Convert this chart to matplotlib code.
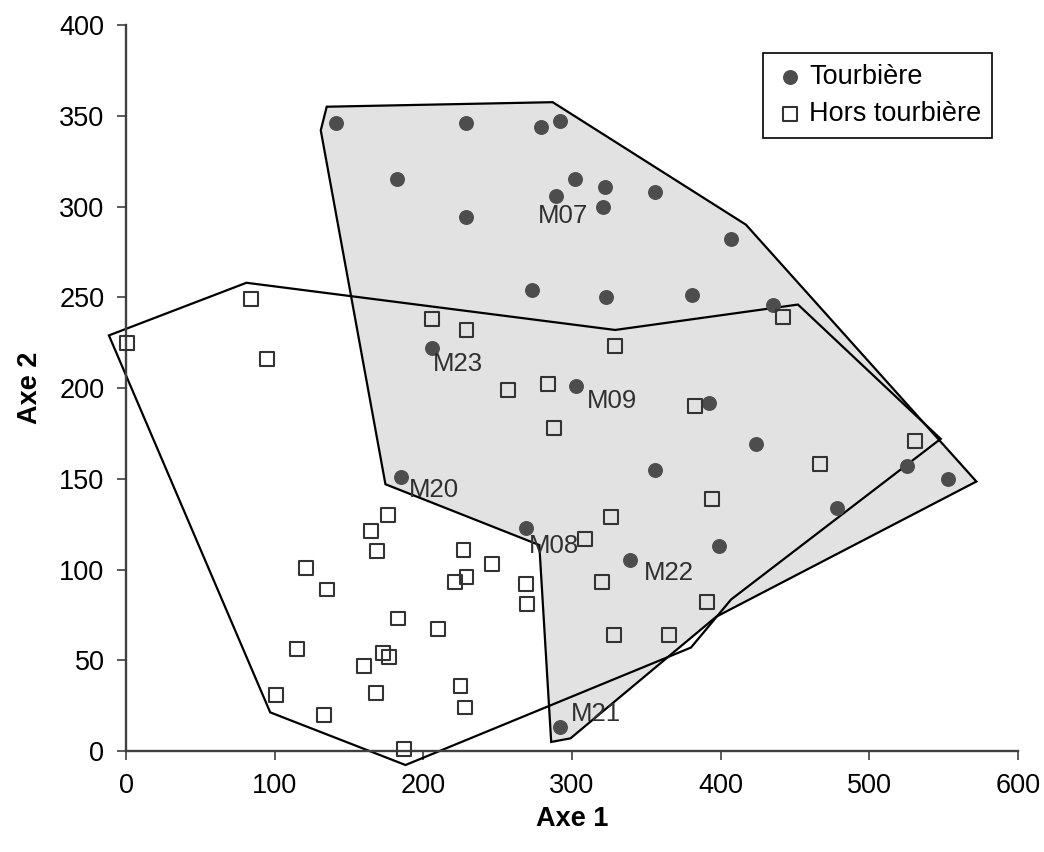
import matplotlib
matplotlib.use("Agg")
import matplotlib.pyplot as plt
from matplotlib.patches import Polygon

plt.rcParams['font.family'] = ['Liberation Sans', 'DejaVu Sans']

# Tourbière (filled circles)
tourb_x = [141, 229, 279, 292, 182, 302, 322, 289, 321, 356, 229, 407, 273, 323, 381, 435,
           206, 303, 185, 269, 339, 292, 392, 424, 356, 525, 553, 478, 399]
tourb_y = [346, 346, 344, 347, 315, 315, 311, 306, 300, 308, 294, 282, 254, 250, 251, 246,
           222, 201, 151, 123, 105, 13, 192, 169, 155, 157, 150, 134, 113]

# Hors tourbière (open squares)
hors_x = [0.5, 84, 95, 206, 229, 257, 284, 288, 176, 165, 169, 121, 135, 227, 246, 229, 221,
          269, 270, 183, 210, 115, 173, 177, 160, 101, 168, 225, 228, 133, 187, 309, 326, 320,
          328, 365, 329, 442, 383, 531, 467, 394, 391]
hors_y = [225, 249, 216, 238, 232, 199, 202, 178, 130, 121, 110, 101, 89, 111, 103, 96, 93,
          92, 81, 73, 67, 56, 54, 52, 47, 31, 32, 36, 24, 20, 1, 117, 129, 93,
          64, 64, 223, 239, 190, 171, 158, 139, 82]

# Hull of the peatland sites (shaded)
hull_t_x = [135, 287, 417, 572, 397, 299, 286, 278, 174.5, 131]
hull_t_y = [355, 357.5, 290, 148.5, 74, 7, 5, 113.5, 147, 342]

# Hull of the non-peatland sites
hull_h_x = [-11.5, 81, 329, 452, 548, 407, 380, 188, 97]
hull_h_y = [229, 258, 232, 246, 172, 83.5, 57, -7.7, 21.3]

# Point labels
lab_text = ["M07", "M23", "M09", "M20", "M08", "M22", "M21"]
lab_x = [294, 223, 327, 207, 288, 365, 316]
lab_y = [295, 213, 193, 144, 113, 98, 20.5]

fig = plt.figure(figsize=(10.44, 8.52), dpi=100)
ax = fig.add_axes([0.1207, 0.1185, 0.8544, 0.8521])
ax.set_xlim(0, 600)
ax.set_ylim(0, 400)

ax.add_patch(Polygon(list(zip(hull_t_x, hull_t_y)), closed=True, facecolor='#e2e2e2',
                     edgecolor='black', lw=1.6, clip_on=False, zorder=1))
ax.add_patch(Polygon(list(zip(hull_h_x, hull_h_y)), closed=True, facecolor='none',
                     edgecolor='black', lw=1.6, clip_on=False, zorder=2))

ax.scatter(tourb_x, tourb_y, s=95, marker='o', color='#4d4d4d', edgecolors='#4d4d4d',
           zorder=3, clip_on=False, label='Tourbière')
ax.scatter(hors_x, hors_y, s=100, marker='s', facecolors='none', edgecolors='#333333',
           linewidths=1.5, zorder=3, clip_on=False, label='Hors tourbière')

for t, x, y in zip(lab_text, lab_x, lab_y):
    ax.text(x, y, t, fontsize=18.5, color='#303030', ha='center', va='center', zorder=4)

for s in ['top', 'right']:
    ax.spines[s].set_visible(False)
for s in ['left', 'bottom']:
    ax.spines[s].set_color('#404040')
    ax.spines[s].set_linewidth(1.7)
    ax.spines[s].set_zorder(2.5)

ax.set_xticks(range(0, 601, 100))
ax.set_yticks(range(0, 401, 50))
ax.tick_params(axis='both', direction='out', length=6.5, width=1.2, color='#404040',
               labelsize=19.5, pad=9)

ax.set_xlabel('Axe 1', fontsize=19.5, fontweight='bold', labelpad=5)
ax.set_ylabel('Axe 2', fontsize=19.5, fontweight='bold', labelpad=12)

leg = ax.legend(loc='upper right', bbox_to_anchor=(0.971, 0.9614), borderaxespad=0,
                fontsize=19.5, frameon=True, fancybox=False, edgecolor='black',
                framealpha=1, handletextpad=0.1, borderpad=0.4, labelspacing=0.4,
                handlelength=1.2, markerscale=1.0)
leg.get_frame().set_linewidth(1.2)

fig.savefig('out.png', dpi=100)
